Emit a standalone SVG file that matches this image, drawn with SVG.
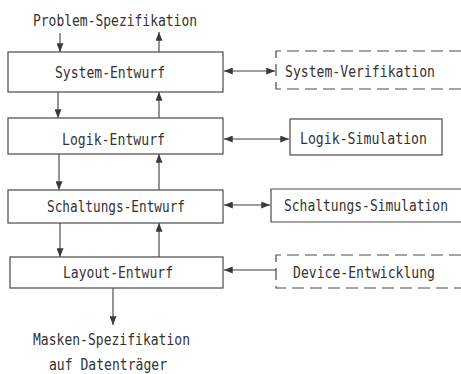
<svg xmlns="http://www.w3.org/2000/svg" width="461" height="374" viewBox="0 0 461 374">
<defs>
<marker id="ah" viewBox="0 0 10 8" refX="10" refY="4" markerWidth="9" markerHeight="7" markerUnits="userSpaceOnUse" orient="auto-start-reverse">
<path d="M0,0 L10,4 L0,8 z" fill="#3a3a3a"/>
</marker>
<style>
.box{fill:#fff;stroke:#4a4a4a;stroke-width:1.2}
.dash{stroke-dasharray:12 6}
.t{font-family:"DejaVu Sans Mono","Liberation Mono",monospace;font-size:15.5px;fill:#333}
.s{font-size:13.5px}
.c{fill:none;stroke:#3f3f3f;stroke-width:1.1}
</style>
</defs>
<rect width="461" height="374" fill="#fff"/>
<g id="connectors">
<line class="c" x1="60" y1="33" x2="60" y2="52" marker-end="url(#ah)"/>
<line class="c" x1="159" y1="52" x2="159" y2="32" marker-end="url(#ah)"/>
<line class="c" x1="58" y1="92" x2="58" y2="118" marker-end="url(#ah)"/>
<line class="c" x1="159" y1="118" x2="159" y2="92" marker-end="url(#ah)"/>
<line class="c" x1="59" y1="154" x2="59" y2="190" marker-end="url(#ah)"/>
<line class="c" x1="159" y1="190" x2="159" y2="154" marker-end="url(#ah)"/>
<line class="c" x1="60" y1="223" x2="60" y2="257" marker-end="url(#ah)"/>
<line class="c" x1="159" y1="257" x2="159" y2="223" marker-end="url(#ah)"/>
<line class="c" x1="113" y1="288" x2="113" y2="325" marker-end="url(#ah)"/>
<line class="c" x1="224" y1="71" x2="275" y2="71" marker-start="url(#ah)" marker-end="url(#ah)"/>
<line class="c" x1="224" y1="139" x2="289" y2="139" marker-start="url(#ah)" marker-end="url(#ah)"/>
<line class="c" x1="224" y1="205" x2="270" y2="205" marker-start="url(#ah)" marker-end="url(#ah)"/>
<line class="c" x1="276" y1="270" x2="224" y2="270" marker-end="url(#ah)"/>
</g>
<g id="problem-spec"><text class="t" x="33" y="26" textLength="164" lengthAdjust="spacingAndGlyphs">Problem-Spezifikation</text></g>
<g id="system-entwurf"><rect class="box" x="8" y="52" width="215" height="40"/><text class="t" x="55" y="78" textLength="110" lengthAdjust="spacingAndGlyphs">System-Entwurf</text></g>
<g id="logik-entwurf"><rect class="box" x="8" y="118" width="215" height="36"/><text class="t" x="62" y="145" textLength="103" lengthAdjust="spacingAndGlyphs">Logik-Entwurf</text></g>
<g id="schaltungs-entwurf"><rect class="box" x="8" y="190" width="215" height="33"/><text class="t" x="47" y="212" textLength="138" lengthAdjust="spacingAndGlyphs">Schaltungs-Entwurf</text></g>
<g id="layout-entwurf"><rect class="box" x="10" y="257" width="213" height="31"/><text class="t" x="63" y="278" textLength="110" lengthAdjust="spacingAndGlyphs">Layout-Entwurf</text></g>
<g id="system-verifikation"><path class="box dash" d="M461,51 H276 V89 H461"/><text class="t" x="285" y="77" textLength="150" lengthAdjust="spacingAndGlyphs">System-Verifikation</text></g>
<g id="logik-simulation"><rect class="box" x="290" y="119" width="152" height="36"/><text class="t" x="300" y="144" textLength="127" lengthAdjust="spacingAndGlyphs">Logik-Simulation</text></g>
<g id="schaltungs-simulation"><path class="box" d="M461,189 H271 V222 H461"/><text class="t s" x="284" y="0" transform="translate(0,211) scale(1,1.15)" textLength="164" lengthAdjust="spacingAndGlyphs">Schaltungs-Simulation</text></g>
<g id="device-entwicklung"><path class="box dash" d="M461,255 H276 V288 H461"/><text class="t" x="293" y="278" textLength="142" lengthAdjust="spacingAndGlyphs">Device-Entwicklung</text></g>
<g id="masken-spec"><text class="t" x="33" y="345" textLength="157" lengthAdjust="spacingAndGlyphs">Masken-Spezifikation</text><text class="t" x="49" y="370" textLength="118" lengthAdjust="spacingAndGlyphs">auf Datenträger</text></g>
</svg>
